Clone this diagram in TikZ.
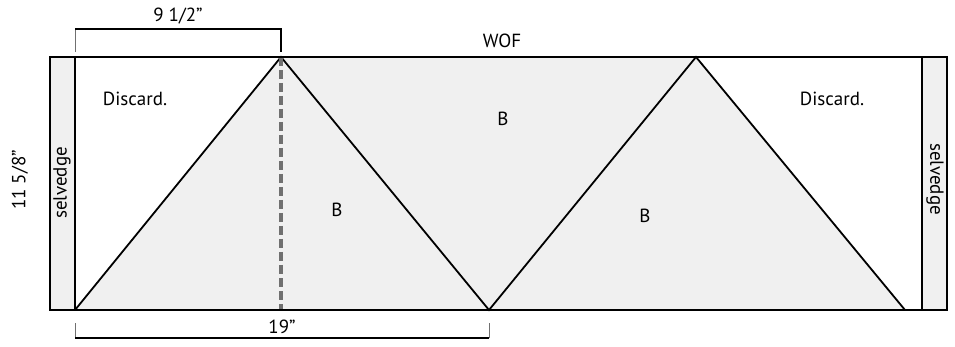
\documentclass[tikz,border=0pt]{standalone}
\usepackage{fontspec}
\setmainfont{PT Sans}
\definecolor{dashgray}{RGB}{112,112,112}
\definecolor{lightfill}{RGB}{240,240,240}
\begin{document}
\begin{tikzpicture}[x=1pt,y=-1pt,
  lbl/.style={font=\fontsize{19}{21}\selectfont, inner sep=0pt},
  outline/.style={line width=2.4pt, black},
  cut/.style={line width=1.8pt, black},
  dim/.style={line width=1.6pt, black},
  thintick/.style={line width=1pt, dashgray},
  fillg/.style={fill=lightfill}]
\useasboundingbox (0,0) rectangle (955,347);
% coordinates
\coordinate (TL) at (50,57);
\coordinate (BR) at (947,310);
\coordinate (A1) at (281,57);
\coordinate (A2) at (696,57);
\coordinate (F0) at (75,310);
\coordinate (F1) at (489,310);
\coordinate (F2) at (905,310);
\coordinate (D1) at (281,310);
% selvedge strips
\fill[fillg] (50,57) rectangle (75,310);
\fill[fillg] (922,57) rectangle (947,310);
% shaded triangles
\fill[fillg] (F0) -- (A1) -- (A2) -- (F2) -- cycle;
% triangle lines
\draw[cut] (F0) -- (A1) -- (F1) -- (A2) -- (F2);
% dashed line
\draw[line width=4pt, dashgray, dash pattern=on 9pt off 4pt] (A1) -- (D1);
% outline
\draw[outline] (TL) rectangle (BR);
\draw[outline] (75,57) -- (75,310);
\draw[outline] (922,57) -- (922,310);
% dimension brackets
\coordinate (d1) at (75,29);
\coordinate (d2) at (281,29);
\draw[thintick] (75,52) -- (d1);
\draw[dim] (d1) -- (d2) -- (281,52);
\node[lbl] (dtop) at (178,16) {9 1/2”};
\coordinate (e1) at (75,338);
\coordinate (e2) at (489,338);
\draw[thintick] (75,323) -- (e1);
\draw[dim] (e1) -- (e2);
\draw[thintick] (e2) -- (489,323);
\node[lbl] (dbot) at (282,327) {19”};
% labels
\node[lbl] (wof) at (502,41) {WOF};
\node[lbl, rotate=90] (h) at (20,180) {11 5/8”};
\node[lbl, rotate=90] (s1) at (62,183) {selvedge};
\node[lbl, rotate=-90] (s2) at (935,179) {selvedge};
\node[lbl] (d1l) at (135,99) {Discard.};
\node[lbl] (d2l) at (832,99) {Discard.};
\node[lbl] (b1) at (503,119) {B};
\node[lbl] (b2) at (337,210) {B};
\node[lbl] (b3) at (645,216) {B};
\end{tikzpicture}
\end{document}
